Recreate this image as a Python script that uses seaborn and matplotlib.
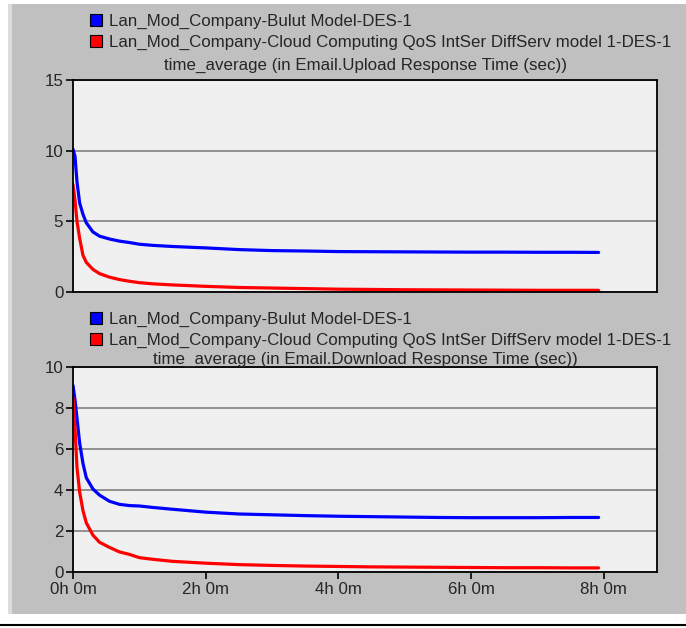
"""
Email upload / download response time (time_average) - two stacked panels.
"""

import matplotlib
matplotlib.use("Agg")
import matplotlib.pyplot as plt
from matplotlib.patches import Patch, Rectangle
from matplotlib.lines import Line2D
import pandas as pd
import seaborn as sns

# ── data ──────────────────────────────────────────────────────────
series_names = [
    "Lan_Mod_Company-Bulut Model-DES-1",
    "Lan_Mod_Company-Cloud Computing QoS IntSer DiffServ model 1-DES-1",
]
series_colors = ["#0000ff", "#ff0000"]

time_h = [0, 0.03, 0.06, 0.1, 0.15, 0.2, 0.3, 0.4, 0.55, 0.7, 0.85, 1.0, 1.2,
          1.5, 2.0, 2.5, 3.0, 3.5, 4.0, 4.5, 5.0, 5.5, 6.0, 6.5, 7.0, 7.5, 7.92]

upload_bulut = [10.1, 9.6, 7.8, 6.3, 5.5, 4.9, 4.25, 3.95, 3.75, 3.6, 3.5, 3.38,
                3.3, 3.22, 3.12, 3.0, 2.93, 2.9, 2.86, 2.85, 2.84, 2.83, 2.82,
                2.82, 2.81, 2.81, 2.8]
upload_qos = [7.6, 6.5, 5.0, 3.8, 2.6, 2.1, 1.6, 1.3, 1.05, 0.88, 0.76, 0.66,
              0.58, 0.5, 0.4, 0.32, 0.28, 0.24, 0.2, 0.18, 0.16, 0.15, 0.14,
              0.13, 0.12, 0.12, 0.12]

download_bulut = [9.1, 8.4, 7.5, 6.3, 5.3, 4.6, 4.05, 3.75, 3.45, 3.3, 3.24,
                  3.22, 3.15, 3.06, 2.92, 2.83, 2.79, 2.75, 2.72, 2.7, 2.68,
                  2.66, 2.65, 2.65, 2.65, 2.66, 2.66]
download_qos = [8.5, 7.0, 5.1, 3.9, 3.0, 2.4, 1.8, 1.45, 1.2, 0.98, 0.86, 0.7,
                0.62, 0.52, 0.43, 0.36, 0.32, 0.29, 0.27, 0.25, 0.24, 0.23,
                0.22, 0.21, 0.21, 0.2, 0.2]

panel_titles = [
    "time_average (in Email.Upload Response Time (sec))",
    "time_average (in Email.Download Response Time (sec))",
]
upload_yticks = [0, 5, 10, 15]
download_yticks = [0, 2, 4, 6, 8, 10]
xtick_hours = [0, 2, 4, 6, 8]
xtick_labels = ["0h 0m", "2h 0m", "4h 0m", "6h 0m", "8h 0m"]


def long_frame(a, b):
    return pd.DataFrame({
        "time": time_h * 2,
        "value": a + b,
        "series": [series_names[0]] * len(a) + [series_names[1]] * len(b),
    })


# ── style ─────────────────────────────────────────────────────────
sns.set_style("white", {"axes.facecolor": "#f0f0f0"})
plt.rcParams["font.family"] = ["Liberation Sans", "DejaVu Sans"]
FS = 12.2

fig = plt.figure(figsize=(6.86, 6.28), dpi=100, facecolor="white")

# grey window background like the simulator export
W, H = 686, 628
fig.add_artist(Rectangle((12 / W, 1 - 614 / H), 1, (614 - 4) / H,
                         transform=fig.transFigure, facecolor="#c0c0c0",
                         edgecolor="none", zorder=-10))
fig.add_artist(Rectangle((8 / W, 1 - 614 / H), 4 / W, (614 - 4) / H,
                         transform=fig.transFigure, facecolor="#dcdcdc",
                         edgecolor="none", zorder=-10))
fig.add_artist(Line2D([0, 1], [1 - 625 / H] * 2, transform=fig.transFigure,
                      color="black", linewidth=1.5))

left, width = 73 / W, 584 / W
ax_up = fig.add_axes([left, 1 - 292 / H, width, 212 / H])
ax_dn = fig.add_axes([left, 1 - 572 / H, width, 205 / H])

panels = [
    (ax_up, long_frame(upload_bulut, upload_qos), upload_yticks, 15, 1 - 50 / H),
    (ax_dn, long_frame(download_bulut, download_qos), download_yticks, 10, 1 - 348 / H),
]

for ax, df, yticks, ymax, leg_y in panels:
    sns.lineplot(data=df, x="time", y="value", hue="series",
                 palette=series_colors, linewidth=2.3, legend=False, ax=ax)
    ax.set_xlim(0, 8.8)
    ax.set_ylim(0, ymax)
    ax.set_yticks(yticks)
    ax.set_yticklabels([str(v) for v in yticks], fontsize=FS)
    ax.yaxis.grid(True, color="#808080", linewidth=1.2)
    ax.set_axisbelow(True)
    ax.set_xlabel("")
    ax.set_ylabel("")
    for sp in ax.spines.values():
        sp.set_visible(True)
        sp.set_color("black")
        sp.set_linewidth(1.3)
    ax.tick_params(axis="y", direction="out", length=5, width=1.2,
                   color="black", left=True, pad=2)

    handles = [Patch(facecolor=c, edgecolor="black", linewidth=0.8)
               for c in series_colors]
    ax.legend(handles, series_names, loc="lower left",
              bbox_to_anchor=(90 / W, leg_y), bbox_transform=fig.transFigure,
              frameon=False, fontsize=FS, handlelength=0.7, handleheight=0.7,
              handletextpad=0.4, labelspacing=0.33, borderpad=0, borderaxespad=0)

ax_up.set_title(panel_titles[0], fontsize=FS, pad=7)
ax_dn.set_title(panel_titles[1], fontsize=FS, pad=2.5)

ax_up.set_xticks(xtick_hours)
ax_up.tick_params(axis="x", bottom=False, labelbottom=False)
ax_dn.set_xticks(xtick_hours)
ax_dn.set_xticklabels(xtick_labels, fontsize=FS)
ax_dn.tick_params(axis="x", direction="out", length=5, width=1.2,
                  color="black", bottom=True, pad=2)

fig.savefig("out.png", dpi=100, facecolor="white")
